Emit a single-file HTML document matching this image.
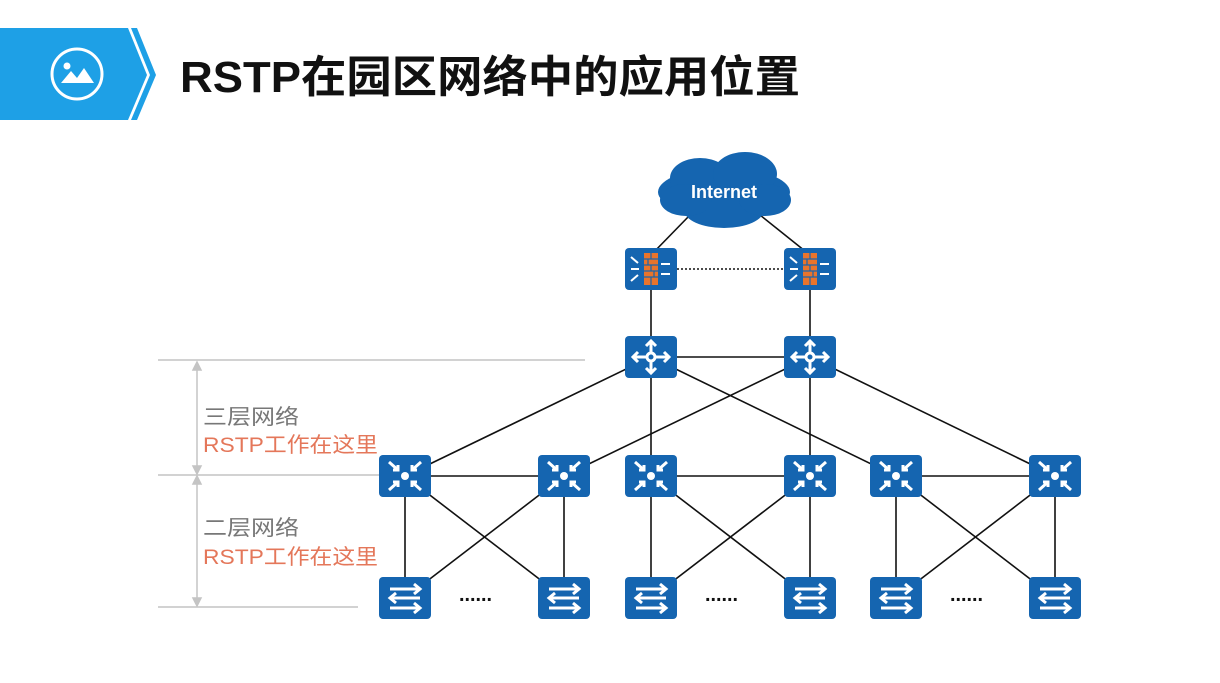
<!DOCTYPE html>
<html><head><meta charset="utf-8"><style>
body{margin:0;width:1220px;height:683px;background:#fff;overflow:hidden;font-family:"Liberation Sans","Noto Sans CJK SC",sans-serif}
</style></head><body>
<svg width="1220" height="683" viewBox="0 0 1220 683" xmlns="http://www.w3.org/2000/svg" style="position:absolute;left:0;top:0">
<defs>
<g id="fw"><rect x="-26" y="-21" width="52" height="42" rx="4" fill="#1565b0"/>
<rect x="-7" y="-16" width="14" height="32" fill="#e8742c"/>
<g stroke="#1565b0" stroke-width="1.2"><line x1="-7" y1="-10" x2="7" y2="-10"/><line x1="-7" y1="-4" x2="7" y2="-4"/><line x1="-7" y1="2" x2="7" y2="2"/><line x1="-7" y1="8" x2="7" y2="8"/><line x1="0" y1="-16" x2="0" y2="-10"/><line x1="0" y1="-4" x2="0" y2="2"/><line x1="0" y1="8" x2="0" y2="16"/><line x1="-3" y1="-10" x2="-3" y2="-4"/><line x1="3" y1="2" x2="3" y2="8"/></g>
<g stroke="#fff" stroke-width="2" fill="#fff"><line x1="-20" y1="-12" x2="-13" y2="-6"/><line x1="-20" y1="0" x2="-12" y2="0"/><line x1="-20" y1="12" x2="-13" y2="6"/><line x1="10" y1="-5" x2="19" y2="-5"/><line x1="10" y1="5" x2="19" y2="5"/></g></g>
<g id="rt"><rect x="-26" y="-21" width="52" height="42" rx="4" fill="#1565b0"/>
<g stroke="#fff" stroke-width="3" fill="none"><line x1="0" y1="-16" x2="0" y2="16"/><line x1="-18" y1="0" x2="18" y2="0"/>
<polyline points="-5,-11 0,-16 5,-11"/><polyline points="-5,11 0,16 5,11"/><polyline points="-13,-5 -18,0 -13,5"/><polyline points="13,-5 18,0 13,5"/><circle cx="0" cy="0" r="4" fill="#1565b0"/></g></g>
<g id="sw"><rect x="-26" y="-21" width="52" height="42" rx="4" fill="#1565b0"/>
<circle cx="0" cy="0" r="4" fill="#fff"/>
<g stroke="#fff" stroke-width="3" fill="none"><line x1="-16" y1="-14" x2="-7" y2="-6"/><line x1="16" y1="-14" x2="7" y2="-6"/><line x1="-16" y1="14" x2="-7" y2="6"/><line x1="16" y1="14" x2="7" y2="6"/>
<polyline points="-12,-6 -7,-6 -7,-11"/><polyline points="12,-6 7,-6 7,-11"/><polyline points="-12,6 -7,6 -7,11"/><polyline points="12,6 7,6 7,11"/></g></g>
<g id="ac"><rect x="-26" y="-21" width="52" height="42" rx="4" fill="#1565b0"/>
<g stroke="#fff" stroke-width="3" fill="none"><line x1="-15" y1="-9" x2="15" y2="-9"/><polyline points="9,-14 15,-9 9,-4"/><line x1="-15" y1="0" x2="15" y2="0"/><polyline points="-9,-5 -15,0 -9,5"/><line x1="-15" y1="10" x2="15" y2="10"/><polyline points="9,5 15,10 9,15"/></g></g>
</defs>
<polygon points="0,28 128,28 147,75 128,120 0,120" fill="#1ea0e6"/>
<polygon points="131,28 137,28 156,75 137,120 131,120 150,75" fill="#1ea0e6"/>
<circle cx="77" cy="74" r="25" fill="none" stroke="#fff" stroke-width="3"/>
<circle cx="67" cy="66" r="3.5" fill="#fff"/>
<polygon points="61,83 71,71 77,78 84,68 94,83" fill="#fff"/>
<text x="180" y="92" font-size="44" font-weight="bold" fill="#111" textLength="620" lengthAdjust="spacingAndGlyphs" font-family="Liberation Sans,Noto Sans CJK SC,sans-serif">RSTP在园区网络中的应用位置</text>
<g stroke="#c4c4c4" stroke-width="1.5" fill="#c4c4c4">
<line x1="158" y1="360" x2="585" y2="360"/><line x1="158" y1="475" x2="385" y2="475"/><line x1="158" y1="607" x2="358" y2="607"/>
<line x1="197" y1="364" x2="197" y2="471"/><line x1="197" y1="479" x2="197" y2="603"/>
<polygon points="193,370 197,362 201,370"/><polygon points="193,466 197,474 201,466"/><polygon points="193,484 197,476 201,484"/><polygon points="193,598 197,606 201,598"/></g>
<g font-size="21" font-family="Liberation Sans,Noto Sans CJK SC,sans-serif">
<text x="203" y="424" fill="#777" textLength="96" lengthAdjust="spacingAndGlyphs">三层网络</text><text x="203" y="452" fill="#e4775a" textLength="175" lengthAdjust="spacingAndGlyphs">RSTP工作在这里</text>
<text x="203" y="535" fill="#777" textLength="96" lengthAdjust="spacingAndGlyphs">二层网络</text><text x="203" y="564" fill="#e4775a" textLength="175" lengthAdjust="spacingAndGlyphs">RSTP工作在这里</text></g>
<g stroke="#111" stroke-width="1.6">
<line x1="690" y1="215" x2="651" y2="255"/><line x1="760" y1="215" x2="810" y2="255"/>
<line x1="677" y1="269" x2="784" y2="269" stroke-dasharray="2,2"/>
<line x1="651" y1="269" x2="651" y2="357"/><line x1="810" y1="269" x2="810" y2="357"/>
<line x1="651" y1="357" x2="810" y2="357"/>
<line x1="651" y1="357" x2="405" y2="476"/><line x1="651" y1="357" x2="651" y2="476"/><line x1="651" y1="357" x2="896" y2="476"/>
<line x1="810" y1="357" x2="564" y2="476"/><line x1="810" y1="357" x2="810" y2="476"/><line x1="810" y1="357" x2="1055" y2="476"/>
<line x1="405" y1="476" x2="564" y2="476"/><line x1="651" y1="476" x2="810" y2="476"/><line x1="896" y1="476" x2="1055" y2="476"/>
<line x1="405" y1="476" x2="405" y2="598"/><line x1="564" y1="476" x2="564" y2="598"/><line x1="405" y1="476" x2="564" y2="598"/><line x1="564" y1="476" x2="405" y2="598"/>
<line x1="651" y1="476" x2="651" y2="598"/><line x1="810" y1="476" x2="810" y2="598"/><line x1="651" y1="476" x2="810" y2="598"/><line x1="810" y1="476" x2="651" y2="598"/>
<line x1="896" y1="476" x2="896" y2="598"/><line x1="1055" y1="476" x2="1055" y2="598"/><line x1="896" y1="476" x2="1055" y2="598"/><line x1="1055" y1="476" x2="896" y2="598"/>
</g>
<g fill="#111"><text x="459" y="601" font-size="20" font-weight="bold" textLength="33" lengthAdjust="spacingAndGlyphs">......</text><text x="705" y="601" font-size="20" font-weight="bold" textLength="33" lengthAdjust="spacingAndGlyphs">......</text><text x="950" y="601" font-size="20" font-weight="bold" textLength="33" lengthAdjust="spacingAndGlyphs">......</text></g>
<g fill="#1565b0"><ellipse cx="724" cy="192" rx="66" ry="24"/><ellipse cx="700" cy="178" rx="30" ry="20"/><ellipse cx="745" cy="174" rx="32" ry="22"/><ellipse cx="724" cy="210" rx="40" ry="18"/><ellipse cx="686" cy="200" rx="26" ry="16"/><ellipse cx="765" cy="200" rx="26" ry="16"/></g>
<text x="724" y="198" font-size="18" font-weight="bold" fill="#fff" text-anchor="middle">Internet</text>
<use href="#fw" x="651" y="269"/><use href="#fw" x="810" y="269"/>
<use href="#rt" x="651" y="357"/><use href="#rt" x="810" y="357"/>
<use href="#sw" x="405" y="476"/><use href="#sw" x="564" y="476"/><use href="#sw" x="651" y="476"/><use href="#sw" x="810" y="476"/><use href="#sw" x="896" y="476"/><use href="#sw" x="1055" y="476"/>
<use href="#ac" x="405" y="598"/><use href="#ac" x="564" y="598"/><use href="#ac" x="651" y="598"/><use href="#ac" x="810" y="598"/><use href="#ac" x="896" y="598"/><use href="#ac" x="1055" y="598"/>
</svg>
</body></html>
